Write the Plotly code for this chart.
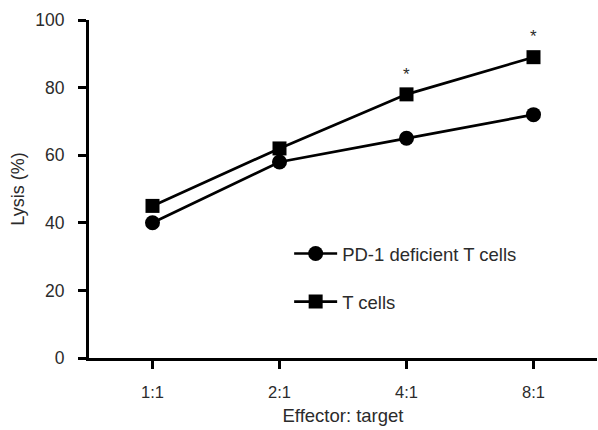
import plotly.graph_objects as go

categories = ["1:1", "2:1", "4:1", "8:1"]
pd1_deficient = [40, 58, 65, 72]
t_cells = [45, 62, 78, 89]
star_categories = ["4:1", "8:1"]
star_y = [84, 95]
y_ticks = [0, 20, 40, 60, 80, 100]

font_family = "Liberation Sans, Arial, Helvetica, sans-serif"
text_color = "#2b2b2b"

fig = go.Figure()
fig.add_trace(go.Scatter(
    x=categories, y=pd1_deficient, mode="lines+markers",
    name="PD-1 deficient T cells", legendgroup="a",
    line=dict(color="black", width=2.7),
    marker=dict(symbol="circle", size=15, color="black"),
))
fig.add_trace(go.Scatter(
    x=categories, y=t_cells, mode="lines+markers",
    name="T cells", legendgroup="b",
    line=dict(color="black", width=2.7),
    marker=dict(symbol="square", size=14, color="black"),
))
for c, yv in zip(star_categories, star_y):
    fig.add_annotation(x=c, y=yv, text="*", showarrow=False,
                       font=dict(size=17, color=text_color, family=font_family))

fig.update_layout(
    width=598, height=430,
    margin=dict(l=89, r=1, t=20, b=72),
    paper_bgcolor="white", plot_bgcolor="white",
    font=dict(family=font_family, size=18, color=text_color),
    showlegend=True,
    legend=dict(x=0.394, y=0.364, xanchor="left", yanchor="top",
                tracegroupgap=21, bgcolor="rgba(0,0,0,0)",
                font=dict(size=18.5, color=text_color), itemwidth=43),
    xaxis=dict(
        type="category", categoryorder="array", categoryarray=categories,
        range=[-0.5, 3.5], showline=True, linecolor="black", linewidth=3,
        ticks="outside", ticklen=8, tickwidth=2.5, tickcolor="black",
        showgrid=False, zeroline=False, ticklabelstandoff=9,
        title=dict(text="Effector: target", standoff=10, font=dict(size=18.5)),
        tickfont=dict(size=16.5),
    ),
    yaxis=dict(
        range=[0, 100], tickvals=y_ticks, showline=True, linecolor="black",
        linewidth=3, ticks="outside", ticklen=8, tickwidth=2.5, tickcolor="black",
        showgrid=False, zeroline=False, ticklabelstandoff=10,
        title=dict(text="Lysis (%)", standoff=6, font=dict(size=18)),
        tickfont=dict(size=17.5),
    ),
)

fig.write_html("out.html")
